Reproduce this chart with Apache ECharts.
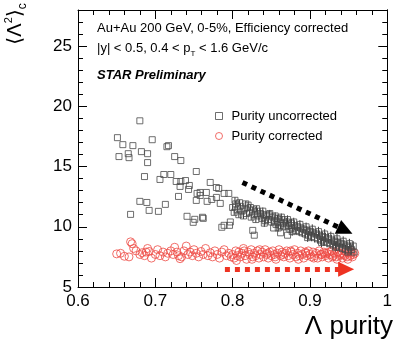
<!DOCTYPE html>
<html><head><meta charset="utf-8">
<script src="https://cdn.jsdelivr.net/npm/echarts@6/dist/echarts.min.js"></script>
<style>html,body{margin:0;padding:0;background:#fff}#c{width:395px;height:347px}</style>
</head><body><div id="c"></div>
<script>
// ---- data ----
const xTicks = [0.6, 0.7, 0.8, 0.9, 1];
const yTicks = [5, 10, 15, 20, 25];
const seriesNames = ['Purity uncorrected', 'Purity corrected'];

// Purity uncorrected, sparse region [purity, <Λ²>c]
const uncorrSparse = [
[0.680,18.80],[0.651,17.40],[0.658,16.82],[0.671,16.74],[0.696,17.23],[0.715,16.65],[0.653,15.83],[0.665,16.07],
[0.666,15.74],[0.682,16.24],[0.690,16.07],[0.690,15.33],[0.686,14.17],[0.706,13.93],[0.711,14.34],[0.720,14.34],
[0.680,12.11],[0.689,12.02],[0.713,11.86],[0.692,11.36],[0.704,11.28],[0.668,11.03],
[0.717,16.74],[0.725,15.83],[0.733,15.50],[0.753,14.59],[0.727,13.76],[0.733,13.76],[0.739,13.84],[0.732,13.35],
[0.743,13.10],[0.771,13.68],[0.782,13.18],[0.758,12.85],[0.766,12.85],[0.730,12.52],[0.753,12.19],[0.758,12.60],
[0.773,12.27],[0.779,12.44],[0.784,11.94],[0.767,12.11],[0.795,12.77],[0.741,10.87],[0.751,10.62],[0.762,10.70],
[0.789,10.12],[0.796,10.12],[0.744,13.43],[0.754,12.77],[0.779,13.26],[0.789,12.77],[0.749,10.37],[0.761,10.79],
[0.786,9.96],[0.828,9.30],[0.797,10.40],[0.826,9.70],[0.853,9.90],[0.862,9.50],[0.871,9.30]
];
// Purity uncorrected, dense band [purity, <Λ²>c, error]
const uncorrBand = [
[0.800,11.6,0.25],[0.802,11.2,0.25],[0.804,11.9,0.25],[0.806,11.4,0.25],[0.808,11.0,0.25],[0.810,11.7,0.25],
[0.812,11.3,0.25],[0.814,10.9,0.25],[0.816,11.5,0.25],[0.818,11.1,0.25],[0.820,11.8,0.25],[0.822,11.2,0.25],
[0.824,10.8,0.25],[0.826,11.4,0.25],[0.828,11.0,0.25],[0.830,10.6,0.25],[0.832,11.3,0.25],[0.834,10.9,0.3],
[0.836,11.1,0.3],[0.838,10.7,0.3],[0.840,11.0,0.3],[0.842,10.5,0.3],[0.844,10.9,0.3],[0.846,10.6,0.3],
[0.848,11.1,0.3],[0.850,10.4,0.3],[0.852,10.8,0.3],[0.854,10.5,0.3],[0.856,10.2,0.3],[0.858,10.7,0.3],
[0.860,10.4,0.3],[0.862,10.1,0.3],[0.864,10.6,0.3],[0.866,10.3,0.3],[0.868,10.0,0.3],[0.870,10.4,0.35],
[0.872,10.1,0.35],[0.874,9.8,0.35],[0.876,10.3,0.35],[0.878,9.9,0.35],[0.880,10.1,0.35],[0.882,9.7,0.35],
[0.884,10.0,0.35],[0.886,9.6,0.35],[0.888,9.9,0.35],[0.890,9.5,0.35],[0.892,9.8,0.35],[0.894,9.4,0.35],
[0.896,9.7,0.35],[0.898,9.3,0.35],[0.900,9.6,0.4],[0.902,9.2,0.4],[0.904,9.5,0.4],[0.906,9.1,0.4],
[0.908,9.4,0.4],[0.910,9.0,0.4],[0.912,9.3,0.4],[0.914,8.9,0.4],[0.916,9.2,0.4],[0.918,8.8,0.4],
[0.920,9.1,0.4],[0.922,8.7,0.4],[0.924,9.0,0.4],[0.926,8.6,0.4],[0.928,8.9,0.4],[0.930,8.5,0.4],
[0.932,8.8,0.4],[0.934,8.4,0.4],[0.936,8.7,0.4],[0.938,8.3,0.4],[0.940,8.6,0.4],[0.942,8.2,0.4],
[0.944,8.5,0.4],[0.946,8.1,0.4],[0.948,8.4,0.4],[0.950,8.0,0.4],[0.952,8.3,0.4],[0.954,8.1,0.4],
[0.956,8.4,0.4],[0.957,7.9,0.4],
[0.803,12.2,0.25],[0.809,12.0,0.25],[0.817,11.9,0.25],[0.823,11.6,0.25],[0.831,11.5,0.25],[0.839,11.3,0.3],
[0.847,11.0,0.3],[0.855,10.9,0.3],[0.863,10.8,0.3],[0.871,10.6,0.35],[0.879,10.4,0.35],[0.887,10.2,0.35],
[0.895,10.0,0.35],[0.903,9.8,0.4],[0.911,9.6,0.4],[0.919,9.4,0.4],[0.927,9.2,0.4],[0.935,9.0,0.4],
[0.943,8.8,0.4],[0.951,8.6,0.4],[0.841,10.3,0.3],[0.859,9.9,0.3],[0.877,9.6,0.35],[0.897,9.1,0.35],
[0.915,8.7,0.4],[0.933,8.3,0.4],[0.949,7.9,0.4]
];
// Purity corrected [purity, <Λ²>c]
const corrected = [
[0.650,7.75],[0.655,7.80],[0.660,7.55],[0.666,7.50],[0.668,8.75],[0.670,8.60],[0.672,8.20],[0.675,8.00],
[0.680,7.70],[0.683,7.85],[0.686,7.60],[0.688,7.90],[0.690,8.20],[0.692,7.95],[0.695,7.40],[0.700,7.70],
[0.703,8.10],[0.706,7.60],[0.710,7.90],[0.713,7.50],[0.716,7.80],[0.720,8.00],[0.723,7.70],[0.725,8.30],
[0.728,7.90],[0.730,7.60],[0.732,7.35],[0.734,7.50],[0.737,8.00],[0.740,8.40],[0.742,7.70],[0.745,7.90],
[0.748,7.60],[0.750,8.10],[0.753,7.80],[0.756,7.50],[0.759,7.95],[0.762,7.70],[0.765,8.20],[0.768,7.60],
[0.771,7.85],[0.774,7.50],[0.777,8.00],[0.780,7.70],[0.783,7.40],[0.786,7.90],[0.789,8.10],[0.792,7.60],
[0.795,7.80],[0.798,7.50],
[0.800,7.7],[0.802,7.4],[0.804,8.0],[0.806,7.6],[0.808,7.9],[0.810,7.5],[0.812,7.8],[0.814,8.2],
[0.816,7.6],[0.818,7.3],[0.820,7.9],[0.822,7.7],[0.824,8.1],[0.826,7.5],[0.828,7.8],[0.830,7.6],
[0.832,8.0],[0.834,7.4],[0.836,7.7],[0.838,7.9],[0.840,7.5],[0.842,8.1],[0.844,7.7],[0.846,7.4],
[0.848,7.9],[0.850,7.6],[0.852,8.0],[0.854,7.7],[0.856,7.3],[0.858,7.8],[0.860,8.1],[0.862,7.6],
[0.864,7.9],[0.866,7.5],[0.868,7.8],[0.870,8.0],[0.872,7.6],[0.874,7.4],[0.876,7.9],[0.878,7.7],
[0.880,8.1],[0.882,7.5],[0.884,7.8],[0.886,7.6],[0.888,8.0],[0.890,7.7],[0.892,7.4],[0.894,7.9],
[0.896,7.6],[0.898,8.0],[0.900,7.7],[0.902,7.5],[0.904,7.9],[0.906,7.6],[0.908,7.8],[0.910,7.4],
[0.912,8.0],[0.914,7.7],[0.916,7.5],[0.918,7.9],[0.920,7.6],[0.922,7.8],[0.924,7.4],[0.926,7.7],
[0.928,8.0],[0.930,7.6],[0.932,7.8],[0.934,7.5],[0.936,7.9],[0.938,7.6],[0.940,7.8],[0.942,7.4],
[0.944,7.7],[0.946,7.9],[0.948,7.5],[0.950,7.8],[0.952,7.6],[0.954,7.9],[0.956,7.7],[0.958,7.8],
[0.805,7.2],[0.815,8.0],[0.825,7.3],[0.835,8.1],[0.845,7.8],[0.855,7.5],[0.865,7.7],[0.875,8.0],
[0.885,7.3],[0.895,7.8],[0.905,7.4],[0.915,7.7],[0.925,7.9],[0.935,7.3],[0.945,7.6],[0.955,7.5],
[0.949,7.3],[0.939,7.7],[0.929,7.5],[0.919,7.8]
];
// trend arrows [start, end] in data coordinates
const blackArrow = [[0.8127, 13.68], [0.9456, 9.71]];
const redArrow = [[0.790, 6.47], [0.9468, 6.47]];

// ---- chart ----
const FONT = 'Liberation Sans, Arial, sans-serif';
const chart = echarts.init(document.getElementById('c'), null, {renderer: 'canvas'});
const axCommon = {
  axisLine: {show: true, lineStyle: {color: '#000', width: 1}},
  splitLine: {show: false}
};
function xAx(pos, labels) {
  return Object.assign({}, axCommon, {
    type: 'value', position: pos, min: xTicks[0], max: xTicks[xTicks.length - 1], interval: 0.1,
    axisTick: {show: true, inside: true, length: 9, lineStyle: {color: '#000'}},
    minorTick: {show: true, splitNumber: 5, length: 5, lineStyle: {color: '#000'}},
    axisLabel: {show: labels, color: '#000', fontSize: 17, fontFamily: FONT, margin: 6,
      formatter: v => (Math.abs(v - 1) < 1e-9 ? '1' : v.toFixed(1))}
  });
}
function yAx(pos, interval, len, labels) {
  return Object.assign({}, axCommon, {
    type: 'value', position: pos, min: yTicks[0], max: 28, interval: interval,
    axisLine: {show: labels || pos === 'right', lineStyle: {color: '#000', width: 1}},
    axisTick: {show: true, inside: true, length: len, lineStyle: {color: '#000'}},
    axisLabel: {show: labels, color: '#000', fontSize: 17, fontFamily: FONT, margin: 6,
      formatter: v => (yTicks.indexOf(v) >= 0 ? String(v) : '')}
  });
}
const sqStyle = {color: 'rgba(0,0,0,0)', borderColor: '#4a4a4a', borderWidth: 1};
const ciStyle = {color: 'rgba(0,0,0,0)', borderColor: '#ee4a44', borderWidth: 1};

chart.setOption({
  animation: false,
  grid: {left: 78, right: 1, top: 10, bottom: 60, containLabel: false},
  xAxis: [xAx('bottom', true), xAx('top', false)],
  yAxis: [yAx('left', 5, 9, true), yAx('left', 1, 5, false), yAx('right', 5, 9, false), yAx('right', 1, 5, false)],
  legend: {
    orient: 'vertical', left: 210, top: 104, itemGap: 6, itemWidth: 7, itemHeight: 7,
    textStyle: {fontSize: 13, fontFamily: FONT, color: '#000', lineHeight: 14, padding: [0, 0, 0, 4]},
    data: [
      {name: seriesNames[0], icon: 'rect', itemStyle: sqStyle},
      {name: seriesNames[1], icon: 'circle', itemStyle: ciStyle}
    ]
  },
  series: [
    {
      type: 'custom', name: 'err', xAxisIndex: 0, yAxisIndex: 0, silent: true,
      data: uncorrBand, encode: {x: 0, y: 1},
      renderItem: function (params, api) {
        const x = api.value(0), y = api.value(1), e = api.value(2);
        const p1 = api.coord([x, y - e]), p2 = api.coord([x, y + e]);
        return {type: 'line', shape: {x1: p1[0], y1: p1[1], x2: p2[0], y2: p2[1]},
          style: {stroke: '#333', lineWidth: 1}};
      }
    },
    {
      type: 'scatter', name: seriesNames[1], xAxisIndex: 0, yAxisIndex: 0,
      symbol: 'circle', symbolSize: 8, itemStyle: ciStyle, data: corrected,
      markLine: {
        silent: true, symbol: ['none', 'triangle'], symbolSize: [15, 16],
        label: {show: false},
        lineStyle: {color: '#ee3322', width: 5, type: [5, 5], cap: 'butt'},
        data: [[{coord: redArrow[0]}, {coord: redArrow[1]}]]
      }
    },
    {
      type: 'scatter', name: seriesNames[0], xAxisIndex: 0, yAxisIndex: 0,
      symbol: 'rect', symbolSize: 6, itemStyle: sqStyle,
      data: uncorrSparse.concat(uncorrBand.map(d => [d[0], d[1]])),
      markLine: {
        silent: true, symbol: ['none', 'triangle'], symbolSize: [15, 16],
        label: {show: false},
        lineStyle: {color: '#000', width: 5, type: [5, 5], cap: 'butt'},
        data: [[{coord: blackArrow[0]}, {coord: blackArrow[1]}]]
      }
    }
  ],
  graphic: [
    {type: 'text', left: 97, top: 22, style: {text: 'Au+Au 200 GeV, 0-5%, Efficiency corrected',
      font: '13px ' + FONT, fill: '#000'}},
    {type: 'text', left: 97, top: 42, style: {text: '|y| < 0.5, 0.4 < p{sub|T} < 1.6 GeV/c',
      font: '13px ' + FONT, fill: '#000',
      rich: {sub: {fontSize: 8, fontFamily: FONT, verticalAlign: 'bottom', lineHeight: 18, padding: [6, 0, 0, 0]}}}},
    {type: 'text', left: 97, top: 69, style: {text: 'STAR Preliminary',
      font: 'italic bold 13px ' + FONT, fill: '#000'}},
    {type: 'text', x: 16, y: 24, rotation: Math.PI / 2,
      style: {text: '{b|\u27E8\u039B}{s|2}{b|\u27E9}{c|c}', align: 'center', verticalAlign: 'middle',
        rich: {
          b: {fontSize: 20, fontFamily: 'DejaVu Sans, ' + FONT, lineHeight: 26, verticalAlign: 'middle'},
          s: {fontSize: 11, fontFamily: FONT, lineHeight: 26, verticalAlign: 'top'},
          c: {fontSize: 12, fontFamily: FONT, lineHeight: 26, verticalAlign: 'bottom'}
        }}},
    {type: 'text', right: 2, top: 314, style: {text: '\u039B purity', font: '26px ' + FONT, fill: '#000'}}
  ]
});
</script></body></html>
